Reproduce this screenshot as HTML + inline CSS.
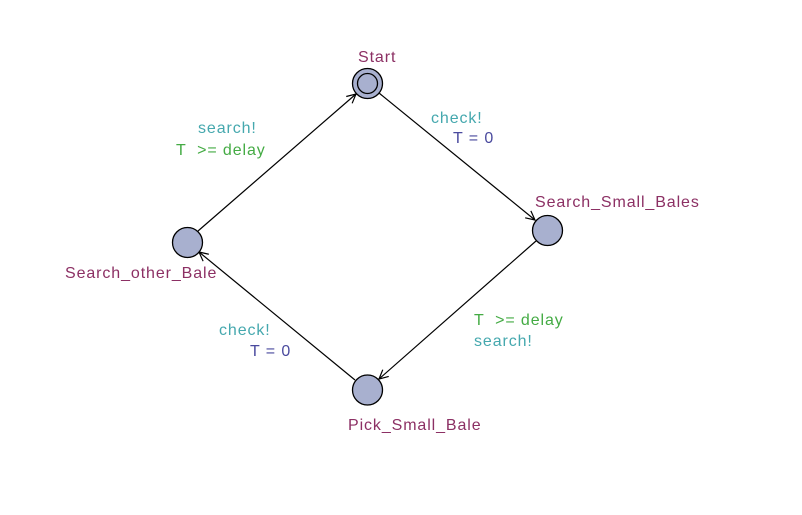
<!DOCTYPE html>
<html><head><style>
html,body{margin:0;padding:0;background:#fff;}
svg text{font-family:"Liberation Sans",Arial,sans-serif;font-size:16px;letter-spacing:0.9px;}
</style></head><body>
<svg width="802" height="510" xmlns="http://www.w3.org/2000/svg">
<defs>
<marker id="a" markerWidth="12" markerHeight="12" refX="10" refY="6" orient="auto" markerUnits="userSpaceOnUse">
<path d="M1,1.5 L10,6 L1,10.5" fill="none" stroke="#000" stroke-width="1.2"/>
</marker>
</defs>
<g stroke="#000" stroke-width="1.2" fill="none">
<line x1="379" y1="93" x2="535" y2="220" marker-end="url(#a)"/>
<line x1="536" y1="241" x2="379" y2="379" marker-end="url(#a)"/>
<line x1="355" y1="380" x2="199" y2="252" marker-end="url(#a)"/>
<line x1="198" y1="231" x2="356" y2="94" marker-end="url(#a)"/>
</g>
<g fill="#a8b0cf" stroke="#000" stroke-width="1.3">
<circle cx="367.5" cy="83.5" r="15"/>
<circle cx="547.5" cy="230.5" r="15"/>
<circle cx="367.5" cy="390" r="15"/>
<circle cx="187.5" cy="242.5" r="15"/>
</g>
<circle cx="367.5" cy="83.5" r="10" fill="none" stroke="#000" stroke-width="1.3"/>
<g fill="#8c3064">
<text x="358" y="62">Start</text>
<text x="535" y="207">Search_Small_Bales</text>
<text x="348" y="430">Pick_Small_Bale</text>
<text x="65" y="278">Search_other_Bale</text>
</g>
<g fill="#45a8ae">
<text x="431" y="123">check!</text>
<text x="474" y="346">search!</text>
<text x="219" y="335">check!</text>
<text x="198" y="133">search!</text>
</g>
<g fill="#44ab44">
<text x="474" y="325">T  &#160;&gt;= delay</text>
<text x="176" y="155">T  &#160;&gt;= delay</text>
</g>
<g fill="#4a4a9e">
<text x="453" y="143">T = 0</text>
<text x="250" y="356">T = 0</text>
</g>
</svg>
</body></html>
